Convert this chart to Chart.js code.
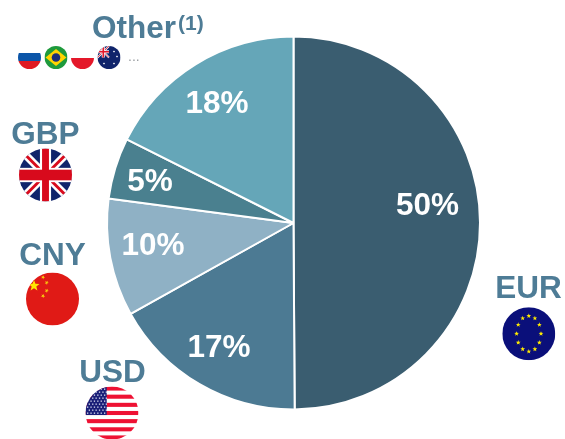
<!DOCTYPE html>
<html><head><meta charset="utf-8">
<style>html,body{margin:0;padding:0;background:#fff;overflow:hidden}canvas{display:block}</style>
<script src="https://cdn.jsdelivr.net/npm/chart.js@4"></script></head>
<body><canvas id="c" width="565" height="439"></canvas>
<script>
const categories = ["EUR","USD","CNY","GBP","Other"];
const shares = [49.9,17.0,10.2,5.3,17.6];
const shareLabels = ["50%","17%","10%","5%","18%"];
const sliceColors = ["#3A5D70","#4C7A93","#8FB1C5","#4A808F","#65A6B8"];
const shareLabelPos = [[427.5,205],[219,347],[153,245],[150,181],[217,103]];
const catLabelPos = [[528.5,298],[112.5,382],[52.5,265],[45.5,144],[92,38]];
const FONT = '"Liberation Sans", Arial, sans-serif';
const LABEL = '#4E7C96';

function disc(ctx,x,y,r,draw){ctx.save();ctx.beginPath();ctx.arc(x,y,r,0,Math.PI*2);ctx.clip();draw();ctx.restore();}
function rect(ctx,c,x,y,w,h){ctx.fillStyle=c;ctx.fillRect(x,y,w,h);}
function star(ctx,x,y,r,c,rot){ctx.fillStyle=c;ctx.beginPath();for(let i=0;i<10;i++){const a=(rot||0)-Math.PI/2+i*Math.PI/5,q=i%2?r*0.42:r;ctx.lineTo(x+q*Math.cos(a),y+q*Math.sin(a));}ctx.closePath();ctx.fill();}
function seg(ctx,c,w,x1,y1,x2,y2){ctx.strokeStyle=c;ctx.lineWidth=w;ctx.beginPath();ctx.moveTo(x1,y1);ctx.lineTo(x2,y2);ctx.stroke();}

function ukFlag(ctx,x,y,r){disc(ctx,x,y,r,()=>{
  rect(ctx,'#10246B',x-r,y-r,2*r,2*r);
  const k=r;
  seg(ctx,'#fff',r*0.3,x-k,y-k,x+k,y+k);seg(ctx,'#fff',r*0.3,x-k,y+k,x+k,y-k);
  seg(ctx,'#D80A1C',r*0.11,x-k,y-k,x+k,y+k);seg(ctx,'#D80A1C',r*0.11,x-k,y+k,x+k,y-k);
  rect(ctx,'#fff',x-r*0.21,y-r,r*0.42,2*r);rect(ctx,'#fff',x-r,y-r*0.27,2*r,r*0.54);
  rect(ctx,'#D80A1C',x-r*0.13,y-r,r*0.26,2*r);rect(ctx,'#D80A1C',x-r,y-r*0.2,2*r,r*0.4);
});}
function cnFlag(ctx,x,y,r){disc(ctx,x,y,r,()=>{
  rect(ctx,'#E01A16',x-r,y-r,2*r,2*r);
  star(ctx,x-18.5,y-13.3,5.8,'#FFE600');
  [[-9.5,-21.7],[-5.8,-16.3],[-5.8,-8.3],[-9.5,-3]].forEach(p=>star(ctx,x+p[0],y+p[1],2.2,'#F9C80E',.5));
});}
function usFlag(ctx,x,y,r){disc(ctx,x,y,r,()=>{
  rect(ctx,'#fff',x-r,y-r,2*r,2*r);
  const h=2*r/13;
  for(let i=0;i<13;i+=2)rect(ctx,'#EE1133',x-r,y-r+i*h,2*r,h);
  rect(ctx,'#1A1F78',x-r,y-r,r*0.8,h*7);
  ctx.fillStyle='#D8DCF0';
  for(let a=0;a<9;a++)for(let b=0;b<6;b++){ctx.fillRect(x-r+1.5+b*3.4+(a%2)*1.7,y-r+2+a*3,1.3,1.3);}
});}
function euFlag(ctx,x,y,r){disc(ctx,x,y,r,()=>{
  rect(ctx,'#0A0F7A',x-r,y-r,2*r,2*r);
  for(let i=0;i<12;i++){const a=i*Math.PI/6;star(ctx,x+12.2*Math.sin(a),y-17.8*Math.cos(a),2.5,'#FFEB00');}
});}
function ruFlag(ctx,x,y,r){disc(ctx,x,y,r,()=>{
  rect(ctx,'#fff',x-r,y-r,2*r,2*r);rect(ctx,'#0B55A8',x-r,y-r+7,2*r,8);rect(ctx,'#E01A22',x-r,y-r+15,2*r,9);
});}
function brFlag(ctx,x,y,r){disc(ctx,x,y,r,()=>{
  rect(ctx,'#1E9A3C',x-r,y-r,2*r,2*r);
  ctx.fillStyle='#FFD400';ctx.beginPath();ctx.moveTo(x-r+1,y);ctx.lineTo(x,y-r+3);ctx.lineTo(x+r-1,y);ctx.lineTo(x,y+r-3);ctx.closePath();ctx.fill();
  ctx.fillStyle='#1C2F7A';ctx.beginPath();ctx.arc(x,y,4.3,0,Math.PI*2);ctx.fill();
});}
function plFlag(ctx,x,y,r){disc(ctx,x,y,r,()=>{
  rect(ctx,'#fff',x-r,y-r,2*r,2*r);rect(ctx,'#E4182A',x-r,y+0.5,2*r,r);
});}
function auFlag(ctx,x,y,r){disc(ctx,x,y,r,()=>{
  rect(ctx,'#10246B',x-r,y-r,2*r,2*r);
  seg(ctx,'#fff',1.8,x-r,y-r,x,y);seg(ctx,'#fff',1.8,x-r,y,x,y-r);
  seg(ctx,'#E4182A',.8,x-r,y-r,x,y);seg(ctx,'#E4182A',.8,x-r,y,x,y-r);
  rect(ctx,'#fff',x-r,y-r/2-1.5,r,3);rect(ctx,'#fff',x-r/2-1.5,y-r,3,r);
  rect(ctx,'#E4182A',x-r,y-r/2-.8,r,1.6);rect(ctx,'#E4182A',x-r/2-.8,y-r,1.6,r);
  [[5,-6],[5,6],[8,-1],[-5,6]].forEach(p=>star(ctx,x+p[0],y+p[1],1.3,'#fff'));
});}

const decorations = {
  id:'decorations',
  afterDraw(chart){
    const ctx=chart.ctx;ctx.save();
    ctx.fillStyle='#fff';ctx.font='bold 31.5px '+FONT;ctx.textAlign='center';
    ctx.textBaseline='middle';
    shareLabels.forEach((t,i)=>ctx.fillText(t,shareLabelPos[i][0],shareLabelPos[i][1]+1.5));
    ctx.textBaseline='alphabetic';
    ctx.fillStyle=LABEL;ctx.font='bold 31.5px '+FONT;
    categories.forEach((t,i)=>{
      ctx.textAlign=t==='Other'?'left':'center';
      ctx.fillText(t,catLabelPos[i][0],catLabelPos[i][1]);
    });
    ctx.textAlign='left';ctx.font='bold 21px '+FONT;ctx.fillText('(1)',178,30);
    ctx.fillStyle='#9A9EA2';ctx.font='14px '+FONT;ctx.fillText('...',128,61);
    euFlag(ctx,528.8,333.7,26.5);usFlag(ctx,112,413,26.5);cnFlag(ctx,52.5,299,26.5);ukFlag(ctx,45.5,175,26.5);
    ruFlag(ctx,29.5,57.5,11.5);brFlag(ctx,56,57.5,11.5);plFlag(ctx,82.5,57.5,11.5);auFlag(ctx,109,57.5,11.5);
    ctx.restore();
  }
};

new Chart(document.getElementById('c'),{
  type:'pie',
  data:{labels:categories,datasets:[{data:shares,backgroundColor:sliceColors,borderColor:'#fff',borderWidth:2}]},
  options:{responsive:false,animation:false,
    layout:{padding:{left:106,right:84,top:35.5,bottom:28.5}},
    plugins:{legend:{display:false},tooltip:{enabled:false}}},
  plugins:[decorations]
});
</script></body></html>
